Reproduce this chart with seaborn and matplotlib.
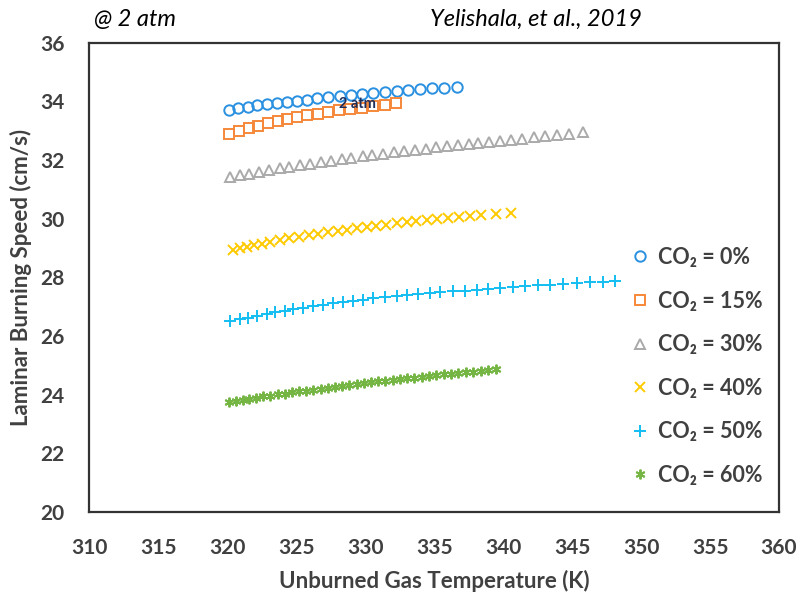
import matplotlib
matplotlib.use('Agg')
from matplotlib import pyplot as plt
import pandas as pd
import seaborn as sns

# CO2 = 0%
t_00 = [320.14, 320.79, 321.52, 322.17, 322.85, 323.57, 324.30, 325.07, 325.79, 326.52, 327.32,
        328.16, 328.94, 329.78, 330.58, 331.43, 332.28, 333.12, 333.97, 334.82, 335.71, 336.63]
s_00 = [33.72, 33.77, 33.82, 33.86, 33.90, 33.94, 33.98, 34.02, 34.06, 34.10, 34.14,
        34.18, 34.22, 34.26, 34.29, 34.32, 34.35, 34.38, 34.41, 34.44, 34.47, 34.50]
# CO2 = 15%
t_15 = [320.14, 320.86, 321.59, 322.24, 322.97, 323.69, 324.34, 325.07, 325.79, 326.59, 327.32,
        328.11, 328.89, 329.74, 330.58, 331.43, 332.23]
s_15 = [32.88, 32.99, 33.08, 33.17, 33.25, 33.33, 33.40, 33.46, 33.53, 33.58, 33.64,
        33.69, 33.74, 33.79, 33.84, 33.89, 33.93]
# CO2 = 30%
t_30 = [320.2, 320.9, 321.6, 322.3, 323.0, 323.8, 324.5, 325.3, 326.0, 326.8, 327.5, 328.3,
        329.0, 329.8, 330.5, 331.3, 332.1, 332.8, 333.6, 334.4, 335.1, 335.9, 336.7, 337.5,
        338.2, 339.0, 339.8, 340.6, 341.4, 342.2, 343.0, 343.9, 344.8, 345.8]
s_30 = [31.42, 31.48, 31.54, 31.60, 31.66, 31.72, 31.77, 31.83, 31.88, 31.93, 31.98, 32.03,
        32.08, 32.13, 32.17, 32.22, 32.26, 32.30, 32.35, 32.39, 32.43, 32.47, 32.51, 32.55,
        32.58, 32.62, 32.66, 32.69, 32.73, 32.77, 32.81, 32.85, 32.89, 32.95]
# CO2 = 40%
t_40 = [320.4, 320.9, 321.4, 321.9, 322.5, 323.1, 323.8, 324.5, 325.2, 325.9, 326.6, 327.3,
        328.0, 328.7, 329.4, 330.1, 330.8, 331.5, 332.3, 333.0, 333.7, 334.5, 335.2, 336.0,
        336.8, 337.6, 338.4, 339.5, 340.6]
s_40 = [28.94, 29.00, 29.05, 29.10, 29.15, 29.21, 29.27, 29.33, 29.39, 29.44, 29.49, 29.54,
        29.59, 29.63, 29.68, 29.72, 29.76, 29.80, 29.84, 29.88, 29.92, 29.96, 30.00, 30.03,
        30.07, 30.10, 30.13, 30.17, 30.21]
# CO2 = 50%
t_50 = [320.19, 320.91, 321.52, 322.12, 322.85, 323.45, 324.18, 324.78, 325.51, 326.23, 326.96,
        327.68, 328.41, 329.13, 329.86, 330.58, 331.43, 332.28, 333.00, 333.85, 334.69, 335.42,
        336.38, 337.23, 338.08, 338.92, 339.77, 340.73, 341.58, 342.55, 343.39, 344.36, 345.33,
        346.29, 347.26, 348.11]
s_50 = [26.50, 26.57, 26.63, 26.69, 26.75, 26.81, 26.87, 26.92, 26.97, 27.02, 27.07,
        27.12, 27.16, 27.20, 27.24, 27.28, 27.32, 27.36, 27.40, 27.43, 27.46, 27.49,
        27.52, 27.55, 27.58, 27.61, 27.64, 27.67, 27.70, 27.73, 27.75, 27.78, 27.80,
        27.83, 27.85, 27.88]
# CO2 = 60%
t_60 = [320.1, 320.6, 321.1, 321.6, 322.1, 322.6, 323.1, 323.7, 324.2, 324.7, 325.2, 325.7,
        326.2, 326.8, 327.3, 327.8, 328.3, 328.8, 329.4, 329.9, 330.4, 330.9, 331.4, 332.0,
        332.5, 333.0, 333.5, 334.1, 334.6, 335.1, 335.7, 336.2, 336.7, 337.3, 337.8, 338.4,
        338.9, 339.5]
s_60 = [23.74, 23.78, 23.82, 23.86, 23.90, 23.94, 23.97, 24.01, 24.04, 24.08, 24.11, 24.14,
        24.17, 24.21, 24.24, 24.27, 24.30, 24.33, 24.36, 24.39, 24.42, 24.45, 24.48, 24.50,
        24.53, 24.56, 24.58, 24.61, 24.64, 24.66, 24.69, 24.71, 24.74, 24.76, 24.79, 24.82,
        24.85, 24.89]

labels = ['CO₂ = 0%', 'CO₂ = 15%', 'CO₂ = 30%', 'CO₂ = 40%', 'CO₂ = 50%', 'CO₂ = 60%']
x_ticks = [310, 315, 320, 325, 330, 335, 340, 345, 350, 355, 360]
y_ticks = [20, 22, 24, 26, 28, 30, 32, 34, 36]

series = [(t_00, s_00), (t_15, s_15), (t_30, s_30), (t_40, s_40), (t_50, s_50), (t_60, s_60)]
colors = ['#2A90E0', '#F5883A', '#AAAAAA', '#FFCA00', '#14BEF2', '#74B544']
markers = ['o', 's', '^', 'x', '+', (6, 2, 0)]
msizes = [7.5, 7, 7, 7, 8.5, 7]
hollow = [True, True, True, False, False, False]

sns.set_style('white')
plt.rcParams['font.family'] = ['Lato', 'DejaVu Sans']
txt = '#404040'

fig = plt.figure(figsize=(8.01, 5.95), dpi=100)
ax = fig.add_axes([0.1117, 0.1395, 0.8608, 0.7887])

for (t, s), lab, c, m, ms, h in zip(series, labels, colors, markers, msizes, hollow):
    df = pd.DataFrame({'T': t, 'S': s})
    kw = dict(markerfacecolor='none') if h else {}
    sns.lineplot(data=df, x='T', y='S', ax=ax, color=c, marker=m, markersize=ms,
                 markeredgecolor=c, markeredgewidth=1.4, linestyle='', label=lab, **kw)

ax.set_xlim(310, 360)
ax.set_ylim(20, 36)
ax.set_xticks(x_ticks)
ax.set_yticks(y_ticks)
ax.tick_params(axis='x', direction='in', length=6, width=1.3, color='#333333',
               pad=19, labelsize=15, labelcolor=txt)
ax.tick_params(axis='y', direction='in', length=6, width=1.3, color='#333333',
               pad=18, labelsize=15, labelcolor=txt)
for lbl in ax.get_xticklabels() + ax.get_yticklabels():
    lbl.set_fontweight('bold')
for sp in ax.spines.values():
    sp.set_color('#333333')
    sp.set_linewidth(1.6)

ax.set_xlabel('Unburned Gas Temperature (K)', fontsize=16, fontweight='bold', color=txt, labelpad=8)
ax.set_ylabel('Laminar Burning Speed (cm/s)', fontsize=16, fontweight='bold', color=txt, labelpad=6)

ax.text(329.4, 33.91, '2 atm', fontsize=10.5, fontweight='bold', color='#1F2D5A',
        ha='center', va='center')

leg = ax.legend(loc='center left', bbox_to_anchor=(0.767, 0.31), frameon=False,
                handlelength=1.0, handletextpad=0.35, labelspacing=1.05, borderpad=0,
                prop={'size': 15.5, 'weight': 'bold'})
for t in leg.get_texts():
    t.set_color(txt)

fig.text(0.117, 0.968, '@ 2 atm', fontsize=17, style='italic', color='black', va='center')
fig.text(0.537, 0.968, 'Yelishala, et al., 2019', fontsize=17, style='italic', color='black', va='center')

fig.savefig('out.png', dpi=100)
